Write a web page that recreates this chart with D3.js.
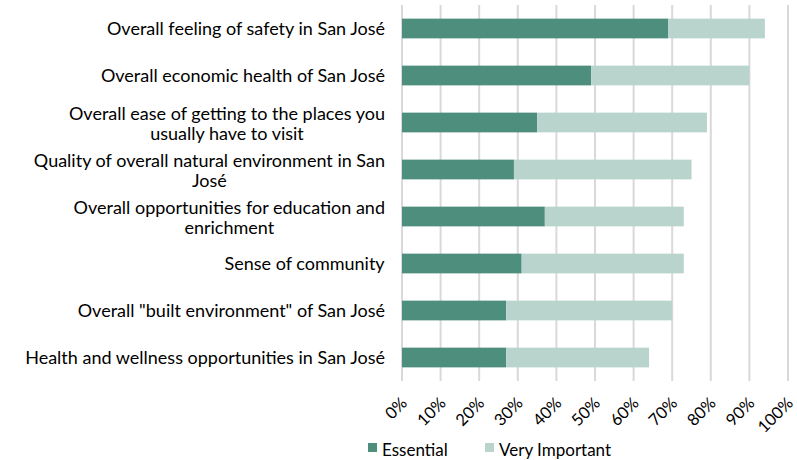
<!DOCTYPE html>
<html>
<head>
<meta charset="utf-8">
<script src="https://cdn.jsdelivr.net/npm/d3@7"></script>
<style>
  body { margin: 0; background: #fff; }
  text { font-family: Lato, "DejaVu Sans", sans-serif; fill: #000; }
</style>
</head>
<body>
<svg id="chart" width="797" height="460"></svg>
<script>
// 类别（"\n" 表示换行）
var categories = [
  "Overall feeling of safety in San José",
  "Overall economic health of San José",
  "Overall ease of getting to the places you\nusually have to visit",
  "Quality of overall natural environment in San\nJosé",
  "Overall opportunities for education and\nenrichment",
  "Sense of community",
  "Overall \"built environment\" of San José",
  "Health and wellness opportunities in San José"
];
var seriesNames = ["Essential", "Very Important"];
var essential = [69, 49, 35, 29, 37, 31, 27, 27];
var veryImportant = [25, 41, 44, 46, 36, 42, 43, 37];
var tickValues = [0, 10, 20, 30, 40, 50, 60, 70, 80, 90, 100];
var colors = ["#4e8e7d", "#b8d4cc"];

var svg = d3.select("#chart");
var plotLeft = 402, plotRight = 788, plotTop = 5, plotBottom = 381;

var x = d3.scaleLinear().domain([0, 100]).range([plotLeft, plotRight]);
var y = d3.scaleBand().domain(d3.range(categories.length)).range([plotTop, plotBottom]).paddingInner(0.58).paddingOuter(0.29);

// 网格线
svg.append("g").selectAll("line")
  .data(tickValues)
  .enter().append("line")
  .attr("x1", function (d) { return x(d); })
  .attr("x2", function (d) { return x(d); })
  .attr("y1", plotTop)
  .attr("y2", plotBottom)
  .attr("stroke", "#d9d9d9")
  .attr("stroke-width", 2);

// 堆叠数据
var rows = categories.map(function (c, i) {
  return { i: i, Essential: essential[i], "Very Important": veryImportant[i] };
});
var stack = d3.stack().keys(seriesNames)(rows);

svg.append("g").selectAll("g")
  .data(stack)
  .enter().append("g")
  .attr("fill", function (d, i) { return colors[i]; })
  .selectAll("rect")
  .data(function (d) { return d; })
  .enter().append("rect")
  .attr("x", function (d) { return x(d[0]); })
  .attr("width", function (d) { return x(d[1]) - x(d[0]); })
  .attr("y", function (d) { return y(d.data.i); })
  .attr("height", y.bandwidth());

// 类别标签：多行时各行居中，整体右对齐
var labels = svg.append("g").selectAll("text")
  .data(categories)
  .enter().append("text")
  .attr("text-anchor", "middle")
  .style("font-size", "18px")
  .each(function (d, i) {
    var lines = d.split("\n");
    var t = d3.select(this);
    var cy = y(i) + y.bandwidth() / 2 + (lines.length > 1 ? 1.5 : 0);
    var lh = 20;
    var y0 = cy - (lines.length - 1) * lh / 2;
    lines.forEach(function (l, k) {
      t.append("tspan")
        .attr("x", 0)
        .attr("y", y0 + k * lh)
        .attr("dy", "0.35em")
        .text(l);
    });
  });

labels.each(function () {
  var w = this.getBBox().width;
  d3.select(this).selectAll("tspan").attr("x", 385 - w / 2);
});

// x 轴刻度文字
svg.append("g").selectAll("text")
  .data(tickValues)
  .enter().append("text")
  .attr("text-anchor", "end")
  .style("font-size", "16.5px")
  .attr("transform", function (d) { return "translate(" + (x(d) - 2) + ",396) rotate(-45)"; })
  .attr("dy", "0.7em")
  .text(function (d) { return d + "%"; });

// 图例
var legend = svg.append("g").selectAll("g")
  .data(seriesNames)
  .enter().append("g")
  .attr("transform", function (d, i) { return "translate(" + (i === 0 ? 368 : 485) + ",443)"; });
legend.append("rect")
  .attr("width", 9)
  .attr("height", 9)
  .attr("fill", function (d, i) { return colors[i]; });
legend.append("text")
  .attr("x", 14)
  .attr("y", 13)
  .style("font-size", "17px")
  .text(function (d) { return d; });
</script>
</body>
</html>
